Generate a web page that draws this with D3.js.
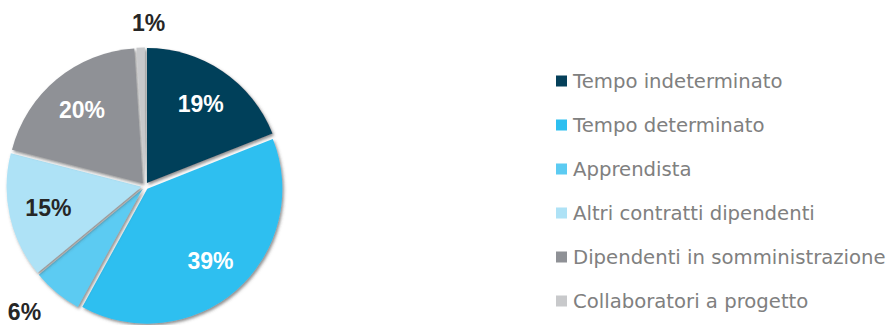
<!DOCTYPE html>
<html><head><meta charset="utf-8">
<script src="https://cdn.jsdelivr.net/npm/d3@7"></script>
<style>body{margin:0;background:#fff}svg{display:block}</style>
</head><body>
<svg id="c" width="891" height="325"></svg>
<script>
const categories = ["Tempo indeterminato","Tempo determinato","Apprendista","Altri contratti dipendenti","Dipendenti in somministrazione","Collaboratori a progetto"];
const values = [19, 39, 6, 15, 20, 1];
const labels = ["19%","39%","6%","15%","20%","1%"];
const colors = ["#05405a","#2dbff0","#5ccbf2","#aee2f6","#8f9196","#c8c9cb"];
const labelInside = [true, true, false, true, true, false];
const labelColors = ["#ffffff","#ffffff","#262626","#262626","#ffffff","#262626"];

const svg = d3.select("#c");
const defs = svg.append("defs");
const f = defs.append("filter").attr("id","sh").attr("x","-20%").attr("y","-20%").attr("width","140%").attr("height","140%");
f.append("feDropShadow").attr("dx",1.5).attr("dy",2).attr("stdDeviation",1.6).attr("flood-color","#444").attr("flood-opacity",0.6);

const cx = 145, cy = 186, R = 135;
const pie = d3.pie().sort(null).value(d => d)(values);
const arc = d3.arc().innerRadius(0).outerRadius(R);
const inArc = d3.arc().innerRadius(99).outerRadius(99);
const outArc = d3.arc().innerRadius(163).outerRadius(163);
const g = svg.append("g").attr("transform",`translate(${cx},${cy})`);
const ex = 3.5;
g.selectAll("path").data(pie).join("path")
  .attr("d", arc)
  .attr("fill", (d,i) => colors[i])
  .attr("filter","url(#sh)")
  .attr("transform", d => { const a=(d.startAngle+d.endAngle)/2; return `translate(${ex*Math.sin(a)},${-ex*Math.cos(a)})`; });

g.selectAll("text").data(pie).join("text")
  .attr("transform", (d,i) => `translate(${(labelInside[i]?inArc:outArc).centroid(d)})`)
  .attr("text-anchor",(d,i) => labelInside[i] ? "middle" : (Math.sin((d.startAngle+d.endAngle)/2) < -0.3 ? "end" : "start"))
  .attr("dx",(d,i) => (!labelInside[i] && Math.sin((d.startAngle+d.endAngle)/2) >= -0.3) ? -8 : 0)
  .attr("dy","0.36em")
  .attr("font-family","'Liberation Sans', Arial, sans-serif").attr("font-weight","bold").attr("font-size",23)
  .attr("fill",(d,i)=>labelColors[i])
  .text((d,i)=>labels[i]);

const lg = svg.append("g");
const ly = d3.scalePoint().domain(categories).range([81, 301]);
const items = lg.selectAll("g").data(categories).join("g").attr("transform", d => `translate(556,${ly(d)})`);
items.append("rect").attr("x",0).attr("y",-5.5).attr("width",11).attr("height",11).attr("fill",(d,i)=>colors[i]);
items.append("text").attr("x",17).attr("dy","0.36em")
  .attr("font-family","'DejaVu Sans', sans-serif").attr("font-size",19).attr("fill","#808080")
  .text(d=>d);
const widest = items.selectAll("text").nodes().reduce((m,n)=>Math.max(m,n.getComputedTextLength()),0);
const fs = Math.min(20, 19*313/widest);
items.selectAll("text").attr("font-size", fs);
</script>
</body></html>
